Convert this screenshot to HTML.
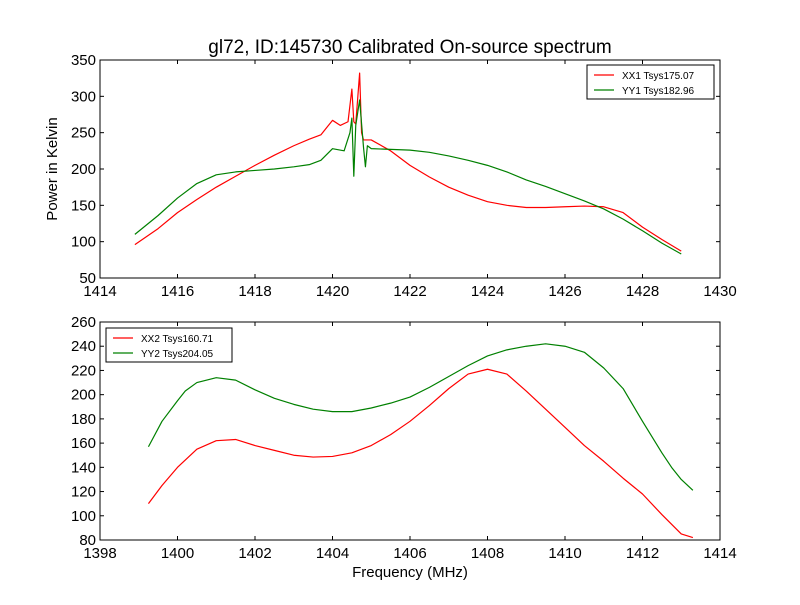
<!DOCTYPE html>
<html><head><meta charset="utf-8"><style>
body{margin:0;background:#fff}
svg text{font-family:"Liberation Sans","DejaVu Sans",sans-serif}
</style></head><body>
<svg id="c" width="800" height="600" viewBox="0 0 800 600">
<rect width="800" height="600" fill="#fff"/>
<text x="410" y="53" font-size="19" text-anchor="middle">gl72, ID:145730 Calibrated On-source spectrum</text>
<text x="410" y="577" font-size="15" text-anchor="middle">Frequency (MHz)</text>
<text transform="translate(57,169) rotate(-90)" font-size="15" text-anchor="middle">Power in Kelvin</text>
</svg>
<script>
const xx1F=[1414.9,1415.5,1416,1416.5,1417,1417.5,1418,1418.5,1419,1419.4,1419.7,1420,1420.2,1420.4,1420.5,1420.55,1420.6,1420.7,1420.75,1420.8,1421,1421.5,1422,1422.5,1423,1423.5,1424,1424.5,1425,1425.5,1426,1426.5,1427,1427.5,1428,1428.5,1429];
const xx1V=[96,118,140,158,175,190,205,219,232,241,247,267,260,265,310,265,262,332,250,240,240,225,205,189,175,164,155,150,147,147,148,149,148,140,120,103,87];
const yy1F=[1414.9,1415.5,1416,1416.5,1417,1417.5,1418,1418.5,1419,1419.4,1419.7,1420,1420.3,1420.45,1420.5,1420.55,1420.6,1420.7,1420.8,1420.85,1420.9,1421,1421.5,1422,1422.5,1423,1423.5,1424,1424.5,1425,1425.5,1426,1426.5,1427,1427.5,1428,1428.5,1429];
const yy1V=[110,136,160,180,192,196,198,200,203,206,212,228,225,250,270,190,260,295,230,203,232,228,227,226,223,218,212,205,196,185,176,166,156,145,131,115,98,83];
const xx2F=[1399.25,1399.6,1400,1400.2,1400.5,1401,1401.5,1402,1402.5,1403,1403.5,1404,1404.5,1405,1405.5,1406,1406.5,1407,1407.5,1408,1408.5,1409,1409.5,1410,1410.5,1411,1411.5,1412,1412.5,1413,1413.3];
const xx2V=[110,125,140,146,155,162,163,158,154,150,148.5,149,152,158,167,178,191,205,217,221,217,203,188,173,158,145,131,118,101,85,82];
const yy2F=[1399.25,1399.6,1400,1400.2,1400.5,1401,1401.5,1402,1402.5,1403,1403.5,1404,1404.5,1405,1405.5,1406,1406.5,1407,1407.5,1408,1408.5,1409,1409.5,1410,1410.5,1411,1411.5,1412,1412.25,1412.5,1412.75,1413,1413.3];
const yy2V=[157,178,195,203,210,214,212,204,197,192,188,186,186,189,193,198,206,215,224,232,237,240,242,240,235,222,205,178,165,152,140,130,121];
const topXTicks=[1414,1416,1418,1420,1422,1424,1426,1428,1430];
const topYTicks=[50,100,150,200,250,300,350];
const botXTicks=[1398,1400,1402,1404,1406,1408,1410,1412,1414];
const botYTicks=[80,100,120,140,160,180,200,220,240,260];
const NS='http://www.w3.org/2000/svg';
const svg=document.getElementById('c');
function mk(t,a,p){const e=document.createElementNS(NS,t);for(const k in a)e.setAttribute(k,a[k]);(p||svg).appendChild(e);return e;}
function panel(name,L,R,T,B,x0,x1,y0,y1,xt,yt,series,leg){
  const g=mk('g',{});
  
  
  const sx=v=>L+(v-x0)/(x1-x0)*(R-L), sy=v=>B-(v-y0)/(y1-y0)*(B-T);
  series.forEach(s=>{
    const p=mk('polyline',{points:s.f.map((f,i)=>sx(f)+','+sy(s.v[i])).join(' '),fill:'none',stroke:s.c,'stroke-width':1.2,'stroke-linejoin':'round'},g);
    
    
  });
  const fr=mk('rect',{x:L,y:T,width:R-L,height:B-T,fill:'none',stroke:'#000','stroke-width':1},g);
  
  
  xt.forEach(v=>{const x=sx(v);
    mk('line',{x1:x,x2:x,y1:B,y2:B-4,stroke:'#000'},g);mk('line',{x1:x,x2:x,y1:T,y2:T+4,stroke:'#000'},g);
    const t=mk('text',{x:x,y:B+18,'font-size':15,'text-anchor':'middle'},g);t.textContent=v;
    
    });
  yt.forEach(v=>{const y=sy(v);
    mk('line',{x1:L,x2:L+4,y1:y,y2:y,stroke:'#000'},g);mk('line',{x1:R,x2:R-4,y1:y,y2:y,stroke:'#000'},g);
    const t=mk('text',{x:L-4,y:y+5,'font-size':15,'text-anchor':'end'},g);t.textContent=v;
    
    });
  const lg=mk('g',{},g);
  
  
  mk('rect',{x:leg.x,y:leg.y,width:leg.w,height:34,fill:'#fff',stroke:'#000'},lg);
  series.forEach((s,i)=>{const y=leg.y+10+i*15;
    mk('line',{x1:leg.x+7,x2:leg.x+27,y1:y,y2:y,stroke:s.c,'stroke-width':1.2},lg);
    const t=mk('text',{x:leg.x+35,y:y+4,'font-size':10},lg);t.textContent=s.l;
    
    });
}
panel('top-panel',100,720,60,278,1414,1430,50,350,topXTicks,topYTicks,
 [{f:xx1F,v:xx1V,c:'#ff0000',n:'series-xx1',l:'XX1 Tsys175.07'},{f:yy1F,v:yy1V,c:'#008000',n:'series-yy1',l:'YY1 Tsys182.96'}],{x:587,y:65,w:127});
panel('bottom-panel',100,720,322,540,1398,1414,80,260,botXTicks,botYTicks,
 [{f:xx2F,v:xx2V,c:'#ff0000',n:'series-xx2',l:'XX2 Tsys160.71'},{f:yy2F,v:yy2V,c:'#008000',n:'series-yy2',l:'YY2 Tsys204.05'}],{x:106,y:328,w:126});
</script>
</body></html>
